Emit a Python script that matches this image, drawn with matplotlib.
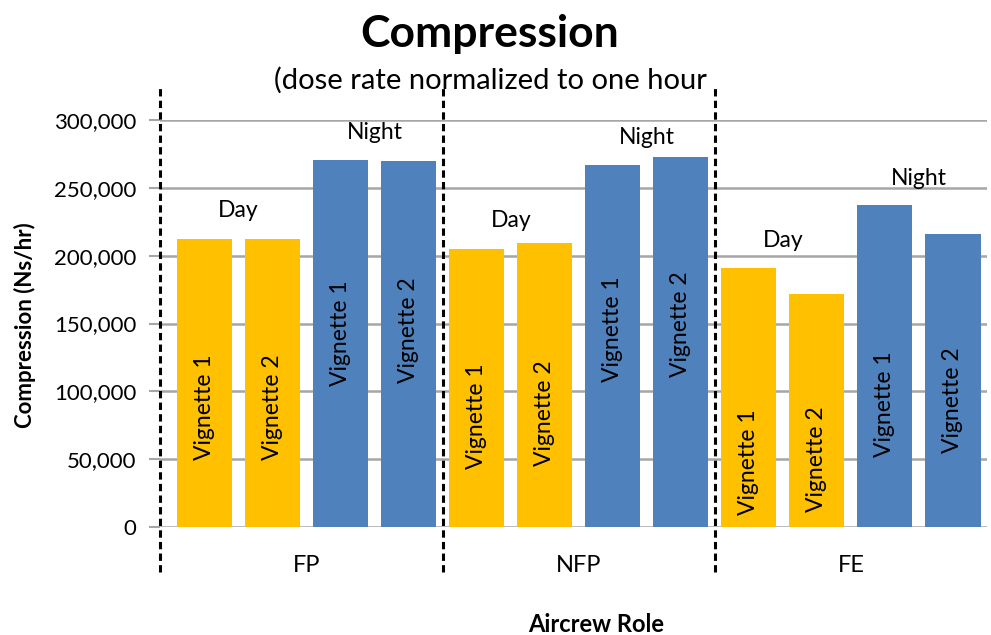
import matplotlib
matplotlib.use("Agg")
import matplotlib.pyplot as plt
from matplotlib.ticker import FuncFormatter

plt.rcParams['font.family'] = ['Lato', 'DejaVu Sans']

# data
roles = ["FP", "NFP", "FE"]
bar_names = ["Vignette 1", "Vignette 2", "Vignette 1", "Vignette 2"]
periods = ["Day", "Night"]
fp_vals = [212300, 212300, 270400, 269600]
nfp_vals = [204900, 209300, 266700, 272600]
fe_vals = [191000, 171800, 237300, 216000]
y_ticks = [0, 50000, 100000, 150000, 200000, 250000, 300000]

# where the rotated bar labels sit (centre, data units)
label_y = [88500, 88500, 143000, 145000,
           81500, 84000, 146000, 149500,
           48000, 50000, 90500, 93500]
# where Day / Night text sits above each pair
period_y = [[233000, 291000], [226000, 287000], [211000, 257000]]

day_color = "#FFC000"
night_color = "#4F81BD"

fig = plt.figure(figsize=(9.91, 6.35), dpi=100)
ax = fig.add_axes([160 / 991, 108 / 635, 827 / 991, 407 / 635])

all_vals = fp_vals + nfp_vals + fe_vals
xs = list(range(len(all_vals)))
colors = [day_color, day_color, night_color, night_color] * 3
ax.bar(xs, all_vals, width=0.81, color=colors, zorder=2)

for i, x in enumerate(xs):
    ax.text(x, label_y[i], bar_names[i % 4], rotation=90, ha="center", va="center",
            fontsize=16.5, color="black", zorder=3)

for g in range(3):
    day_x = g * 4 + 0.5
    night_x = g * 4 + 2.5
    ax.text(day_x, period_y[g][0], periods[0], ha="center", va="center", fontsize=16.5)
    ax.text(night_x, period_y[g][1], periods[1], ha="center", va="center", fontsize=16.5)
    ax.text(g * 4 + 1.5, -0.095, roles[g], ha="center", va="center", fontsize=17,
            transform=ax.get_xaxis_transform())

ax.set_xlim(-0.655, 11.5)
ax.set_ylim(0, 300000)
ax.set_yticks(y_ticks)
ax.yaxis.set_major_formatter(FuncFormatter(lambda v, p: f"{int(v):,}"))
ax.tick_params(axis="y", length=8, color="#A6A6A6", width=1.5, labelsize=16, pad=9)
ax.set_xticks([])
ax.grid(axis="y", color="#A6A6A6", linewidth=1.8, zorder=0)
ax.set_axisbelow(True)
for s in ax.spines.values():
    s.set_visible(False)

# dashed separators between roles
for xv in [-0.655, 3.5, 7.5]:
    ax.plot([xv, xv], [-0.111, 1.086], color="black", linewidth=2.2, linestyle=(0, (2.4, 1.4)),
            transform=ax.get_xaxis_transform(), clip_on=False, zorder=4)

fig.text(490 / 991, 1 - 34 / 635, "Compression", ha="center", va="center",
         fontsize=32, fontweight="bold")
fig.text(490 / 991, 1 - 80 / 635, "(dose rate normalized to one hour", ha="center",
         va="center", fontsize=21)
fig.text(25 / 991, 1 - 325 / 635, "Compression (Ns/hr)", rotation=90, ha="center",
         va="center", fontsize=16, fontweight="bold")
fig.text(596 / 991, 1 - 625 / 635, "Aircrew Role", ha="center", va="center",
         fontsize=17, fontweight="bold")

fig.savefig("out.png", dpi=100)
